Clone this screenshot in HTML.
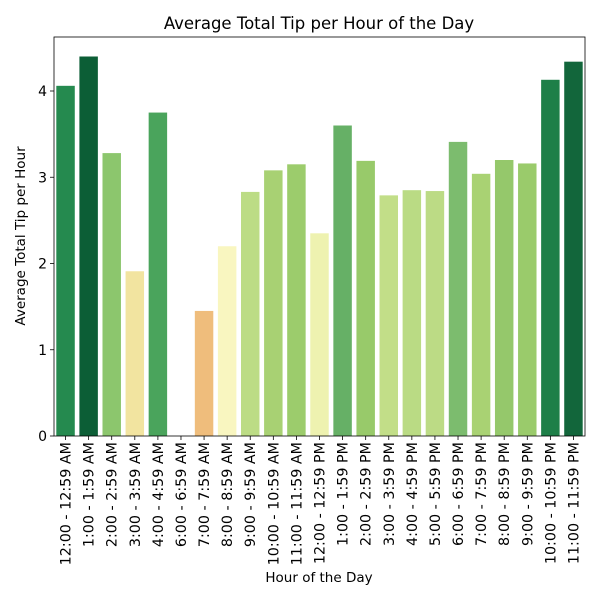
<!DOCTYPE html><html><head><style>body{margin:0;background:#fff}svg{display:block;font-family:"DejaVu Sans","Liberation Sans",sans-serif}</style></head><body>
<svg id="s" width="600" height="600" xmlns="http://www.w3.org/2000/svg"></svg>
<script>
const labels=["12:00 - 12:59 AM","1:00 - 1:59 AM","2:00 - 2:59 AM","3:00 - 3:59 AM","4:00 - 4:59 AM","6:00 - 6:59 AM","7:00 - 7:59 AM","8:00 - 8:59 AM","9:00 - 9:59 AM","10:00 - 10:59 AM","11:00 - 11:59 AM","12:00 - 12:59 PM","1:00 - 1:59 PM","2:00 - 2:59 PM","3:00 - 3:59 PM","4:00 - 4:59 PM","5:00 - 5:59 PM","6:00 - 6:59 PM","7:00 - 7:59 PM","8:00 - 8:59 PM","9:00 - 9:59 PM","10:00 - 10:59 PM","11:00 - 11:59 PM"];
const vals=[4.06,4.40,3.28,1.91,3.75,0,1.45,2.20,2.83,3.08,3.15,2.35,3.60,3.19,2.79,2.85,2.84,3.41,3.04,3.20,3.16,4.13,4.34];
const cols=["#258a4f","#0c5e36","#8cc66d","#f2e4a0","#4aa45c","#fff","#efbd7c","#f9f6c0","#bcdc85","#a8d173","#9ccc6c","#eef2b0","#66b066","#98ca6a","#c2de88","#badb84","#bcdb85","#7cbc6e","#a9d273","#95c86b","#9acb6b","#1e7f48","#12663b"];
const L=54,R=585,T=37,B=436,u=86.25,w=(R-L)/23;
let h='<text x="319" y="29" text-anchor="middle" font-size="16.5">Average Total Tip per Hour of the Day</text>';
vals.forEach((v,i)=>{const cx=L+w*(i+.5),bw=w*.8;
h+=`<rect x="${cx-bw/2}" y="${B-v*u}" width="${bw}" height="${v*u}" fill="${cols[i]}"/>`;
h+=`<line x1="${cx}" y1="${B}" x2="${cx}" y2="${B+4}" stroke="#000" stroke-width="0.8"/>`;
h+=`<text transform="translate(${cx+5},${B+6}) rotate(-90)" text-anchor="end" font-size="14.3">${labels[i]}</text>`;});
for(let k=0;k<=4;k++){const y=B-k*u;h+=`<line x1="${L-4}" y1="${y}" x2="${L}" y2="${y}" stroke="#000" stroke-width="0.8"/><text x="${L-7}" y="${y+5}" text-anchor="end" font-size="14">${k}</text>`;}
h+=`<rect x="${L}" y="${T}" width="${R-L}" height="${B-T}" fill="none" stroke="#000" stroke-width="0.8"/>`;
h+=`<text x="319" y="582" text-anchor="middle" font-size="13.5">Hour of the Day</text>`;
h+=`<text transform="translate(25,236) rotate(-90)" text-anchor="middle" font-size="13.5">Average Total Tip per Hour</text>`;
document.getElementById('s').innerHTML=h;
</script></body></html>
